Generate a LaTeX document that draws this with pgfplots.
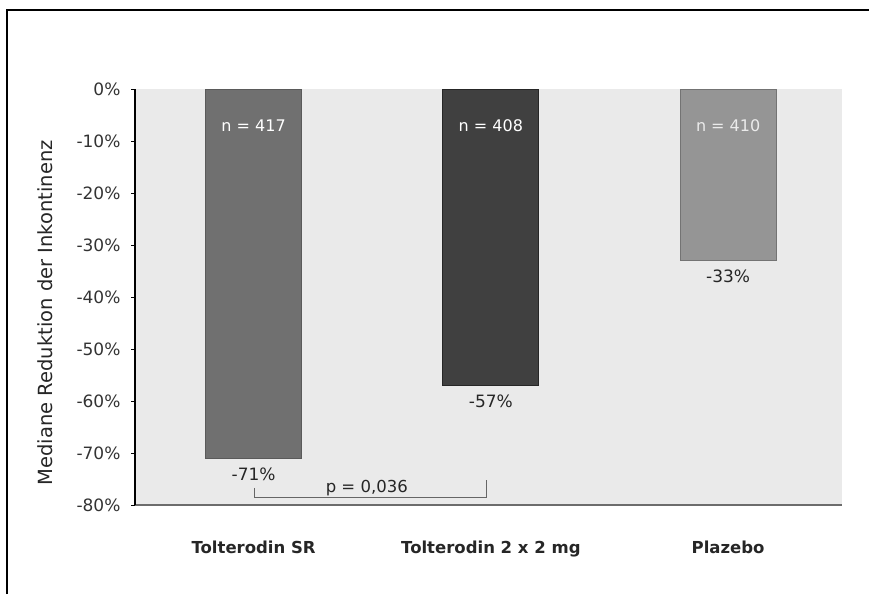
\documentclass[border=0pt]{standalone}
\usepackage{pgfplots}
\pgfplotsset{compat=1.18}
\usepackage{fontspec}
\setmainfont{DejaVu Sans}
\definecolor{bgc}{HTML}{EAEAEA}
\definecolor{barA}{HTML}{707070}
\definecolor{barB}{HTML}{404040}
\definecolor{barC}{HTML}{959595}
\definecolor{edgec}{HTML}{5A5A5A}
\begin{document}
\begin{tikzpicture}[x=1pt,y=1pt]
\useasboundingbox (0,0) rectangle (869,594);
\draw[line width=1.5pt,black] (7,0) -- (7,584) -- (869,584);
\begin{axis}[
  at={(135pt,89pt)}, anchor=south west,
  scale only axis, width=707pt, height=416pt,
  xmin=-0.5, xmax=2.48, ymin=-80, ymax=0,
  axis background/.style={fill=bgc},
  axis x line*=bottom, axis y line*=left,
  x axis line style={-, draw=gray!85!black, line width=2.5pt},
  y axis line style={-, draw=black, line width=1.2pt},
  xtick={0,1,2},
  xticklabels={Tolterodin SR, Tolterodin 2 x 2 mg, Plazebo},
  xticklabel style={font=\fontsize{16.5}{19}\selectfont\bfseries, yshift=-28pt, text=black!85},
  x tick style={draw=none},
  ytick={-80,-70,...,0},
  yticklabels={-80\%,-70\%,-60\%,-50\%,-40\%,-30\%,-20\%,-10\%,0\%},
  yticklabel style={font=\fontsize{17}{19}\selectfont, text=black!80, xshift=-7pt},
  y tick style={black, line width=1pt},
  tick align=outside, major tick length=4pt,
  ylabel={Mediane Reduktion der Inkontinenz},
  ylabel style={font=\fontsize{19.5}{22}\selectfont, text=black!85, at={(axis description cs:-0.127,0.462)}, anchor=center},
  ybar, bar width=96pt,
  /pgf/number format/assume math mode=true,
  nodes near coords={\pgfmathprintnumber{\pgfplotspointmeta}\%},
  nodes near coords style={font=\fontsize{17}{19}\selectfont, text=black!85, anchor=north, inner sep=5pt, yshift=-4pt},
  point meta=y,
  clip=false,
]
\addplot[bar shift=0pt, fill=barA, draw=edgec, line width=1pt] coordinates {(0,-71)};
\addplot[bar shift=0pt, fill=barB, draw=black!85, line width=1pt] coordinates {(1,-57)};
\addplot[bar shift=0pt, fill=barC, draw=gray!90!black, line width=1pt] coordinates {(2,-33)};
\node[text=white, font=\fontsize{16}{18}\selectfont] at (axis cs:0,-7.1) {n = 417};
\node[text=white, font=\fontsize{16}{18}\selectfont] at (axis cs:1,-7.1) {n = 408};
\node[text=white!92!black, font=\fontsize{16}{18}\selectfont] at (axis cs:2,-7.1) {n = 410};
\draw[draw=gray!80!black, line width=1.2pt] (axis cs:0.004,-76.7) -- (axis cs:0.004,-78.5) -- (axis cs:0.983,-78.5) -- (axis cs:0.983,-75.2);
\node[font=\fontsize{16.5}{19}\selectfont, text=black!85, anchor=base, inner sep=0pt] at (axis cs:0.477,-77.6) {p = 0,036};
\end{axis}
\end{tikzpicture}
\end{document}
